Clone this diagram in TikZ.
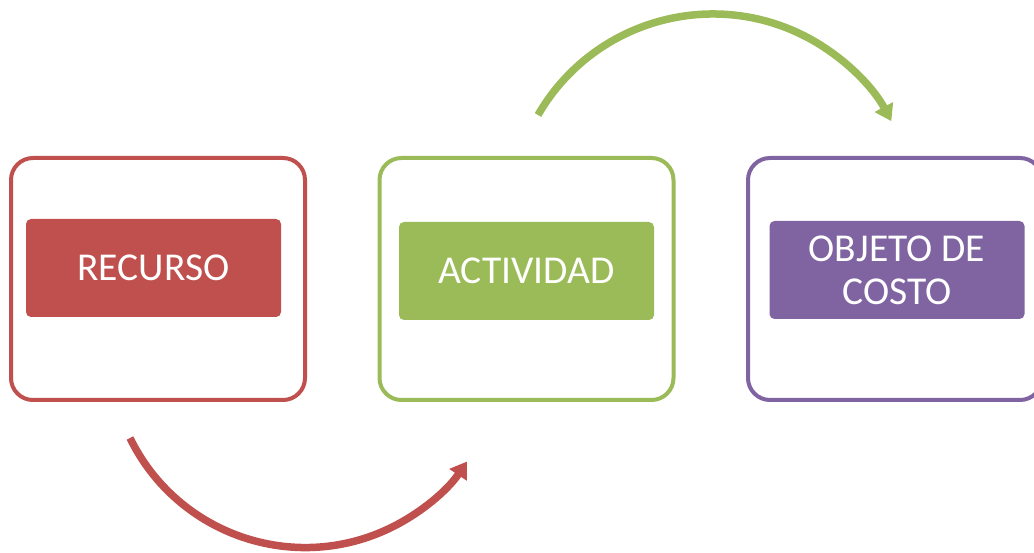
\documentclass[tikz,border=0pt]{standalone}
\usepackage{fontspec}
\setmainfont{Carlito}
\usetikzlibrary{arrows.meta}
\definecolor{resred}{HTML}{C0504D}
\definecolor{actgreen}{HTML}{9BBB59}
\definecolor{objpurple}{HTML}{8064A2}

\begin{document}
\begin{tikzpicture}[x=1pt, y=1pt,
  outerbox/.style={draw=#1, line width=4pt, rounded corners=22pt, minimum width=294pt, minimum height=242pt},
  innerbox/.style={fill=#1, rounded corners=5pt, minimum width=255pt, minimum height=98pt, inner sep=0pt,
    text=white, align=center, font=\fontsize{39.5}{43}\selectfont},
  flow/.style={draw=#1, line width=7.5pt, -{Triangle[length=16pt,width=20pt]}}]
\useasboundingbox (0,0) rectangle (1034,552);

  % outer frames
  \node[outerbox=resred]    (recframe) at (158,273) {};
  \node[outerbox=actgreen]  (actframe) at (526.5,273) {};
  \node[outerbox=objpurple] (objframe) at (895,273) {};

  % labels
  \node[innerbox=resred]    (recurso)   at (153.5,284) {RECURSO};
  \node[innerbox=actgreen]  (actividad) at (526.5,281) {ACTIVIDAD};
  \node[innerbox=objpurple] (objeto)    at (897,282) {OBJETO DE\\COSTO};

  % flows
  \coordinate (recout) at (130,114);
  \draw[flow=resred] (recout) arc[start angle=206, end angle=326, radius=195pt];
  \coordinate (actout) at (538,437);
  \draw[flow=actgreen] (actout) arc[start angle=150, end angle=28, radius=202pt];
\end{tikzpicture}
\end{document}
